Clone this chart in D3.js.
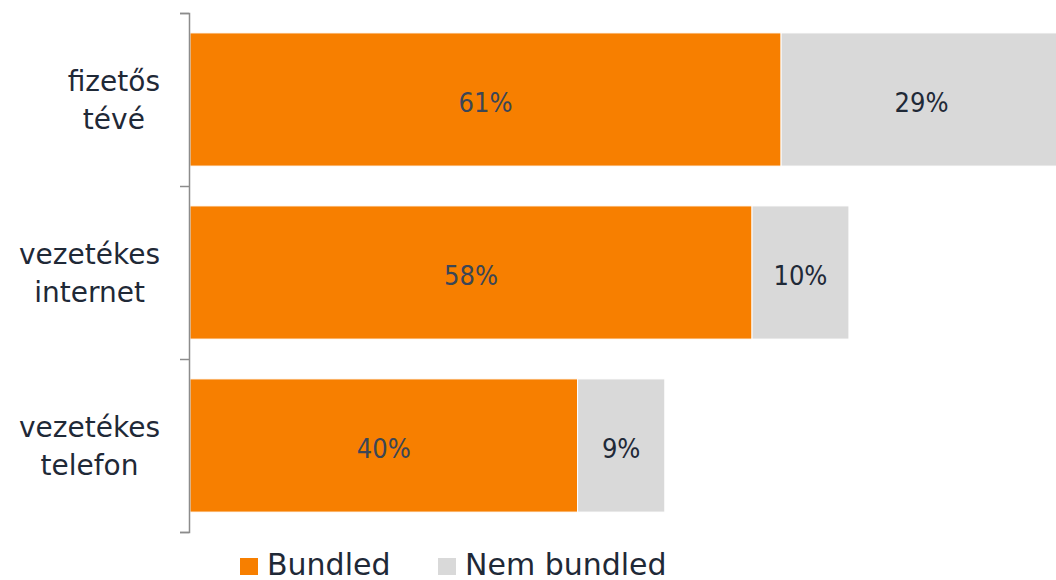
<!DOCTYPE html>
<html><head><meta charset="utf-8">
<script src="https://cdn.jsdelivr.net/npm/d3@7"></script>
<style>body{margin:0;background:#fff}svg{display:block}</style>
</head><body>
<script>
const categories = [["fizetős","tévé"],["vezetékes","internet"],["vezetékes","telefon"]];
const bundled = [61, 58, 40];
const nemBundled = [29, 10, 9];
const seriesNames = ["Bundled", "Nem bundled"];
const colors = ["#F77F00", "#D9D9D9"];

const W = 1056, H = 580;
const svg = d3.select("body").append("svg").attr("width", W).attr("height", H)
  .style("font-family", "'DejaVu Sans',sans-serif");

const x = d3.scaleLinear().domain([0, 100]).range([190, 1159]);
const y = d3.scaleBand().domain(d3.range(categories.length)).range([13, 532]).paddingInner(0.23).paddingOuter(0.115);

const data = categories.map((c, i) => ({c, i, vals: [bundled[i], nemBundled[i]]}));
const stack = d3.stack().keys([0, 1]).value((d, k) => d.vals[k])(data);

stack.forEach((layer, k) => {
  const g = svg.append("g");
  g.selectAll("rect").data(layer).enter().append("rect")
    .attr("x", d => x(d[0])).attr("width", d => x(d[1]) - x(d[0]))
    .attr("y", (d, i) => y(i)).attr("height", y.bandwidth())
    .attr("fill", colors[k]).attr("stroke", "#fff").attr("stroke-width", 1);
  g.selectAll("text").data(layer).enter().append("text")
    .attr("x", d => (x(d[0]) + x(d[1])) / 2)
    .attr("y", (d, i) => y(i) + y.bandwidth() / 2 + 12)
    .attr("text-anchor", "middle").attr("font-size", 27)
    .style("font-family", "'DejaVu Sans Condensed','DejaVu Sans',sans-serif")
    .attr("fill", k === 0 ? "#3B4656" : "#1F2937")
    .text(d => (d[1] - d[0]) + "%");
});

// axis
const axisScale = d3.scaleLinear().domain([0, categories.length]).range([13, 532]);
const axis = svg.append("g").attr("transform", "translate(189,0)")
  .call(d3.axisLeft(axisScale).tickValues(d3.range(categories.length + 1)).tickSize(9).tickFormat(""));
axis.selectAll("line").attr("stroke", "#8C8C8C").attr("stroke-width", 1.5);
axis.select(".domain").attr("stroke", "#8C8C8C").attr("stroke-width", 1.5);

// category labels: block right-aligned at 160, lines centered within block
categories.forEach((c, i) => {
  const cy = y(i) + y.bandwidth() / 2;
  const t = svg.append("text").attr("text-anchor", "middle").attr("font-size", 28).attr("fill", "#1F2937");
  const spans = c.map((line, j) => t.append("tspan").attr("y", cy - 9 + j * 38).text(line));
  const maxW = d3.max(spans, s => s.node().getComputedTextLength());
  spans.forEach(s => s.attr("x", 160 - maxW / 2));
});

// legend
const lx = [240, 438];
seriesNames.forEach((s, k) => {
  svg.append("rect").attr("x", lx[k]).attr("y", 558).attr("width", 18).attr("height", 17).attr("fill", colors[k]);
  svg.append("text").attr("x", lx[k] + 27).attr("y", 575).attr("font-size", 30).attr("fill", "#1F2937").text(s);
});
</script>
</body></html>
